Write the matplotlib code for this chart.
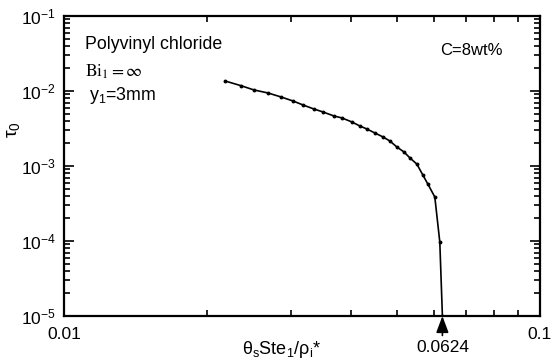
import matplotlib
matplotlib.use("Agg")
import matplotlib.pyplot as plt
from matplotlib.ticker import FixedLocator, NullFormatter, LogLocator

plt.rcParams["font.family"] = ["Liberation Sans", "DejaVu Sans"]
plt.rcParams["mathtext.fontset"] = "custom"
plt.rcParams["mathtext.rm"] = "Liberation Sans"
plt.rcParams["mathtext.it"] = "Liberation Sans:italic"
plt.rcParams["mathtext.bf"] = "Liberation Sans:bold"
plt.rcParams["axes.unicode_minus"] = False

# curve: theta_s Ste_1 / rho_i*  vs  tau_0
x_vals = [0.02179, 0.02353, 0.02507, 0.02683, 0.02857, 0.03027, 0.03177,
          0.03350, 0.03500, 0.03691, 0.03837, 0.04027, 0.04186, 0.04331,
          0.04502, 0.04680, 0.04841, 0.05007, 0.05180, 0.05333, 0.05514,
          0.05676, 0.05815, 0.06015, 0.06162, 0.0624]
tau_vals = [0.01359, 0.01177, 0.01031, 0.00940, 0.00832, 0.00736, 0.00651,
            0.00575, 0.00525, 0.00464, 0.00437, 0.00386, 0.00341, 0.00311,
            0.00275, 0.00244, 0.00215, 0.00179, 0.00154, 0.00128, 0.00106,
            0.000759, 0.000575, 0.000386, 0.0000970, 0.00001]
x_critical = 0.0624
x_tick_vals = [0.01, 0.1]
x_tick_labels = ["0.01", "0.1"]

fig = plt.figure(figsize=(5.52, 3.62), dpi=100)
ax = fig.add_axes([0.116, 0.127, 0.862, 0.829])

ax.plot(x_vals, tau_vals, color="black", lw=1.2, marker="o", ms=1.8)

ax.set_xscale("log")
ax.set_yscale("log")
ax.set_xlim(0.01, 0.1)
ax.set_ylim(1e-5, 1e-1)

ax.xaxis.set_major_locator(FixedLocator(x_tick_vals))
ax.set_xticklabels(x_tick_labels)
ax.xaxis.set_minor_locator(FixedLocator([0.02, 0.03, 0.04, 0.05, 0.06,
                                         0.07, 0.08, 0.09]))
ax.xaxis.set_minor_formatter(NullFormatter())
ax.yaxis.set_major_locator(LogLocator(base=10, numticks=10))
ax.yaxis.set_minor_locator(LogLocator(base=10, subs=range(2, 10), numticks=10))
ax.yaxis.set_minor_formatter(NullFormatter())

ax.tick_params(which="both", direction="in", top=True, right=True,
               labelsize=12.5, width=1.2)
ax.tick_params(which="major", length=7, pad=6)
ax.tick_params(axis="x", which="major", pad=8)
ax.tick_params(which="minor", length=4)
for s in ax.spines.values():
    s.set_linewidth(1.6)

ax.set_ylabel(r"τ$_0$", fontsize=14)
ax.yaxis.set_label_coords(-0.088, 0.62)
ax.set_xlabel(r"θ$_\mathrm{s}$Ste$_1$/ρ$_\mathrm{i}$*", fontsize=13)
ax.xaxis.set_label_coords(0.458, -0.075)

ax.text(0.045, 0.905, "Polyvinyl chloride", transform=ax.transAxes,
        fontsize=12.8, va="center")
ax.text(0.045, 0.815, r"$\mathrm{Bi}_1=\infty$", transform=ax.transAxes,
        fontsize=12.5, va="center", math_fontfamily="stix")
ax.text(0.052, 0.735, r"y$_1$=3mm", transform=ax.transAxes,
        fontsize=12.8, va="center")
ax.text(0.79, 0.885, "C=8wt%", transform=ax.transAxes,
        fontsize=12, va="center")

ax.annotate(str(x_critical), xy=(x_critical, 1e-5),
            xycoords="data", xytext=(0, -17), textcoords="offset points",
            ha="center", va="top", fontsize=12.5, annotation_clip=False,
            arrowprops=dict(arrowstyle="-|>,head_length=0.8,head_width=0.3",
                            color="black", lw=1.2, shrinkA=1, shrinkB=0))

fig.savefig("out.png", dpi=100)
